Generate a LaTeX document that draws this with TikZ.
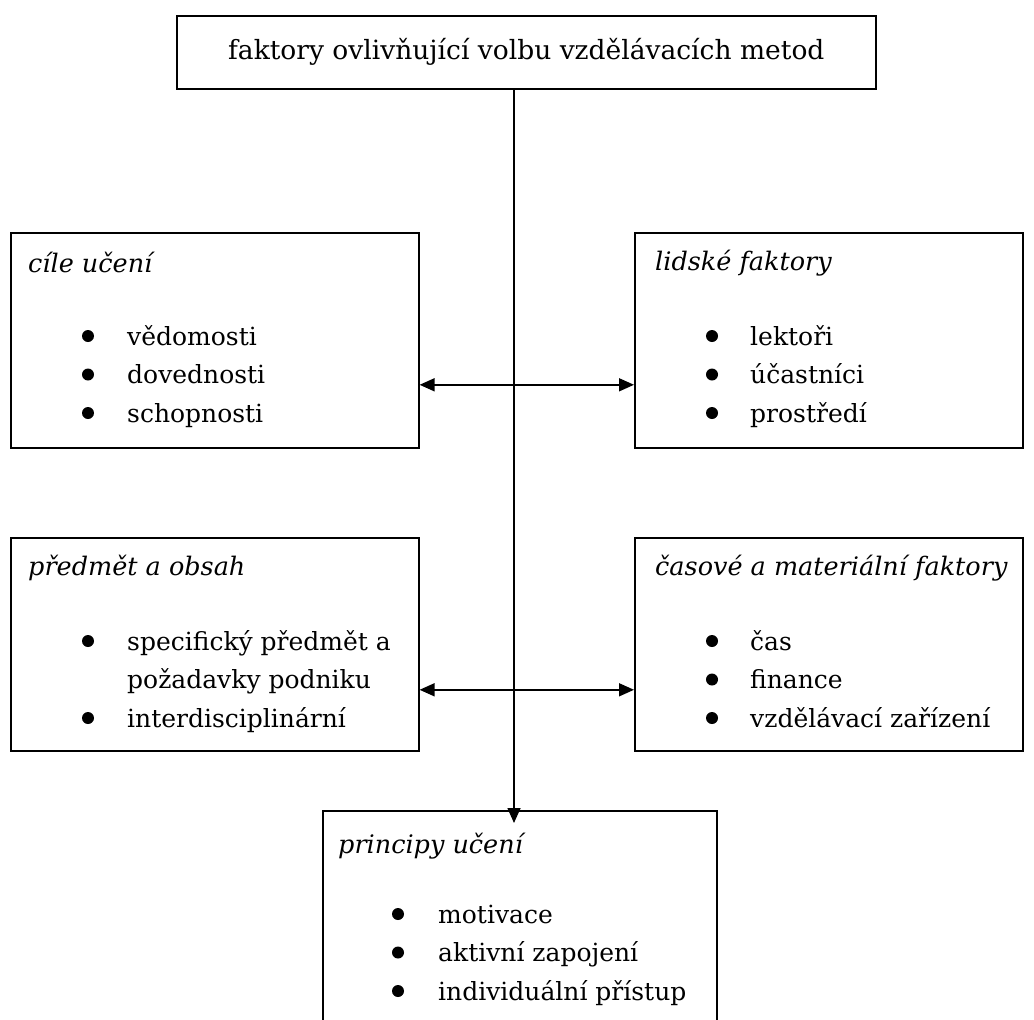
\documentclass[tikz,border=0pt]{standalone}
\usepackage{fontspec}
\setmainfont{DejaVu Serif}
\usetikzlibrary{arrows.meta}
\tikzstyle{box} = [
    draw,
    rectangle,
    line width=1.6pt,
    inner sep=0pt,
    anchor=north west
]
\tikzstyle{head} = [
    anchor=base west,
    inner sep=0pt,
    font=\itshape\fontsize{25.5}{38.5}\selectfont
]
\tikzstyle{items} = [
    anchor=north west,
    inner sep=0pt,
    align=left
]
\tikzstyle{arrow} = [
    line width=1.6pt
]

\begin{document}
\fontsize{25}{38.5}\selectfont
\begin{tikzpicture}[x=1pt, y=-1pt, >={Triangle[length=15pt,width=13pt]}]
        \useasboundingbox (0,0) rectangle (1034,1020);
        \node (faktory) [box, minimum width=699pt, minimum height=73pt, font=\fontsize{26.5}{38.5}\selectfont] at (176,15) {faktory ovlivňující volbu vzdělávacích metod};
        \node (cile) [box, minimum width=408pt, minimum height=215pt] at (10,232) {};
        \node (lidske) [box, minimum width=388pt, minimum height=215pt] at (634,232) {};
        \node (predmet) [box, minimum width=408pt, minimum height=213pt] at (10,537) {};
        \node (casove) [box, minimum width=388pt, minimum height=213pt] at (634,537) {};
        \node (principy) [box, minimum width=394pt, minimum height=220pt] at (322,810) {};

        \node (cilehead) [head] at (28,272) {cíle učení};
        \node (lidskehead) [head] at (655,270) {lidské faktory};
        \node (predmethead) [head] at (28,575) {předmět a obsah};
        \node (casovehead) [head] at (655,575) {časové a materiální faktory};
        \node (principyhead) [head] at (338,853) {principy učení};

        \node (cileitems) [items] at (127,318.05) {\strut vědomosti\\ \strut dovednosti\\ \strut schopnosti};
        \node (lidskeitems) [items] at (750,318.05) {\strut lektoři\\ \strut účastníci\\ \strut prostředí};
        \node (predmetitems) [items] at (127,623.05) {\strut specifický předmět a\\ \strut požadavky podniku\\ \strut interdisciplinární};
        \node (casoveitems) [items] at (750,623.05) {\strut čas\\ \strut finance\\ \strut vzdělávací zařízení};
        \node (principyitems) [items] at (438,896.05) {\strut motivace\\ \strut aktivní zapojení\\ \strut individuální přístup};

        \foreach \bx/\by in {88/336, 88/374.5, 88/413, 712/336, 712/374.5, 712/413,
                             88/641, 88/718, 712/641, 712/679.5, 712/718,
                             398/914, 398/952.5, 398/991}
            \fill (\bx,\by) circle (6pt);

        \coordinate (tip) at (514,823);
        \draw[arrow, ->] (faktory.south -| tip) -- (tip);
        \draw[arrow, <->] ([yshift=-44.5pt]cile.east) -- ([yshift=-44.5pt]lidske.west);
        \draw[arrow, <->] ([yshift=-45.5pt]predmet.east) -- ([yshift=-45.5pt]casove.west);
    \end{tikzpicture}
\end{document}
